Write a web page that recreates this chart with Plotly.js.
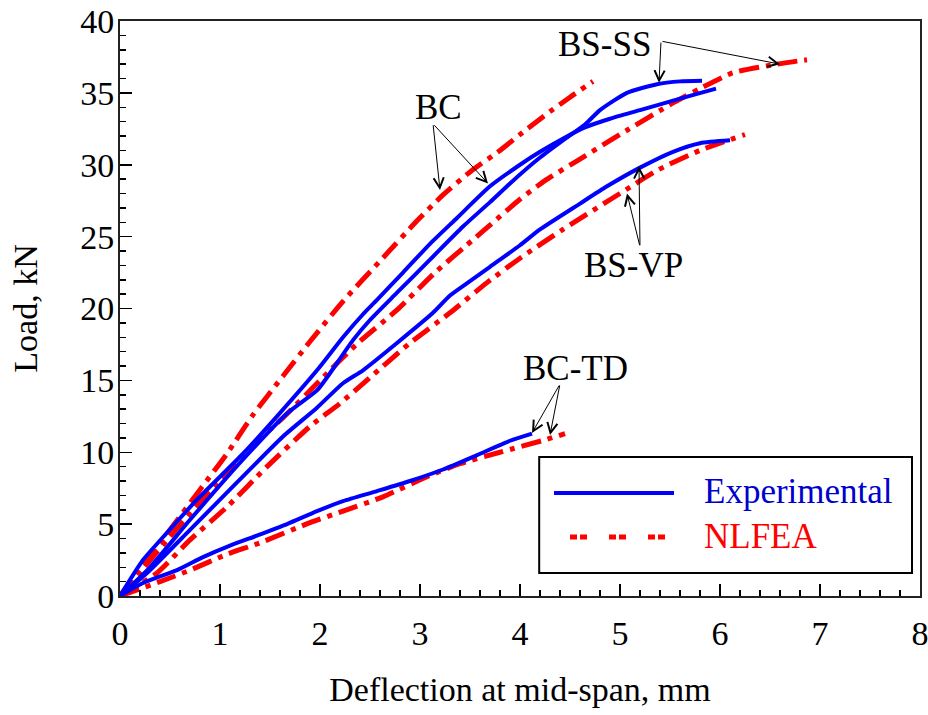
<!DOCTYPE html>
<html>
<head>
<meta charset="utf-8">
<script src="https://cdn.plot.ly/plotly-3.0.1.min.js"></script>
<style>html,body{margin:0;padding:0;background:#fff;}#chart{width:928px;height:715px;}</style>
</head>
<body>
<div id="chart"></div>
<script>
// ---- Data (deflection in mm, load in kN) ----
const BC_exp_x   = [0, 0.23, 0.47, 0.77, 1.23, 1.57, 1.97, 2.23, 2.43, 2.57, 2.83, 3.1, 3.37, 3.7, 4.0, 4.2, 4.45, 4.65, 4.9, 5.2, 5.6, 5.96];
const BC_exp_y   = [0, 2.5, 4.4, 6.7, 9.9, 12.5, 15.7, 18.0, 19.6, 20.6, 22.5, 24.5, 26.3, 28.5, 30.0, 30.9, 31.9, 32.6, 33.2, 33.8, 34.6, 35.3];

const BSSS_exp_x = [0, 0.3, 0.7, 1.23, 1.67, 1.97, 2.07, 2.33, 2.5, 2.77, 3.1, 3.43, 3.7, 3.9, 4.2, 4.45, 4.65, 4.8, 5.07, 5.37, 5.6, 5.82];
const BSSS_exp_y = [0, 2.0, 5.3, 9.5, 12.7, 14.3, 15.2, 17.8, 19.2, 21.1, 23.4, 25.7, 27.4, 28.7, 30.5, 31.8, 32.8, 33.8, 35.0, 35.6, 35.8, 35.85];

const BSVP_exp_x = [0, 0.27, 0.7, 1.17, 1.63, 1.97, 2.23, 2.43, 2.77, 3.13, 3.3, 3.5, 3.7, 4.0, 4.2, 4.6, 4.87, 5.2, 5.53, 5.8, 6.1];
const BSVP_exp_y = [0, 1.6, 4.6, 7.9, 11.1, 13.1, 14.8, 15.7, 17.6, 19.7, 20.9, 21.9, 22.9, 24.4, 25.5, 27.3, 28.5, 29.8, 30.9, 31.5, 31.7];

const BCTD_exp_x = [0, 0.23, 0.57, 0.83, 1.1, 1.37, 1.67, 1.97, 2.23, 2.57, 2.9, 3.23, 3.57, 3.9, 4.12];
const BCTD_exp_y = [0, 0.9, 1.8, 2.7, 3.5, 4.2, 5.0, 5.9, 6.6, 7.3, 8.0, 8.8, 9.8, 10.8, 11.3];

const BC_fea_x   = [0, 0.17, 0.5, 0.8, 1.07, 1.33, 1.63, 1.9, 2.23, 2.6, 2.97, 3.23, 3.5, 3.8, 4.0, 4.3, 4.5, 4.73];
const BC_fea_y   = [0, 1.6, 4.6, 7.4, 9.9, 12.6, 15.3, 17.7, 20.5, 23.3, 26.1, 27.9, 29.5, 31.0, 32.1, 33.7, 34.7, 35.8];

const BSSS_fea_x = [0, 0.23, 0.57, 1.0, 1.3, 1.63, 2.0, 2.38, 2.77, 3.15, 3.55, 3.7, 4.0, 4.25, 4.53, 5.07, 5.53, 5.8, 6.13, 6.57, 6.87];
const BSSS_fea_y = [0, 1.9, 4.7, 8.1, 10.3, 12.4, 15.0, 17.6, 19.9, 22.5, 24.9, 25.8, 27.6, 28.9, 30.1, 32.4, 34.3, 35.3, 36.4, 37.0, 37.3];

const BSVP_fea_x = [0, 0.37, 0.7, 1.07, 1.47, 1.9, 2.2, 2.5, 2.9, 3.3, 3.67, 4.0, 4.43, 5.0, 5.37, 5.8, 6.25];
const BSVP_fea_y = [0, 1.6, 3.9, 6.2, 9.0, 11.8, 13.4, 15.2, 17.6, 19.7, 21.8, 23.5, 25.5, 28.0, 29.6, 31.0, 32.1];

const BCTD_fea_x = [0, 0.4, 0.7, 1.07, 1.4, 1.9, 2.23, 2.63, 3.07, 3.4, 3.8, 4.27, 4.45];
const BCTD_fea_y = [0, 1.0, 1.8, 2.9, 3.7, 5.1, 5.9, 6.9, 8.3, 9.2, 10.0, 10.9, 11.3];

const xTickVals = [0, 1, 2, 3, 4, 5, 6, 7, 8];
const yTickVals = [0, 5, 10, 15, 20, 25, 30, 35, 40];
const legendLabels = ['Experimental', 'NLFEA'];

// ---- Styles ----
const FONT = 'Liberation Serif, Times New Roman, serif';
const expLine = {color: '#0000FF', width: 4, shape: 'spline', smoothing: 0.6};
const feaLine = {color: '#FF0000', width: 5, dash: '20px,7px,5px,7px', shape: 'spline', smoothing: 0.6};

function tr(x, y, line) {
  return {x: x, y: y, type: 'scatter', mode: 'lines', line: line, showlegend: false, hoverinfo: 'skip'};
}

const traces = [
  tr(BC_fea_x, BC_fea_y, feaLine),
  tr(BSSS_fea_x, BSSS_fea_y, feaLine),
  tr(BSVP_fea_x, BSVP_fea_y, feaLine),
  tr(BCTD_fea_x, BCTD_fea_y, feaLine),
  tr(BC_exp_x, BC_exp_y, expLine),
  tr(BSSS_exp_x, BSSS_exp_y, expLine),
  tr(BSVP_exp_x, BSVP_exp_y, expLine),
  tr(BCTD_exp_x, BCTD_exp_y, expLine)
];

function label(text, x, y) {
  return {text: text, x: x, y: y, xref: 'x', yref: 'y', showarrow: false,
          font: {family: FONT, size: 35, color: '#000'}};
}
function arrow(tx, ty, hx, hy) {
  return {text: '', x: hx, y: hy, ax: tx, ay: ty, xref: 'x', yref: 'y', axref: 'x', ayref: 'y',
          showarrow: true, arrowhead: 5, arrowsize: 2, arrowwidth: 1, arrowcolor: '#000', standoff: 0};
}

const annotations = [
  label('BC', 3.18, 33.95),
  arrow(3.13, 32.85, 3.2, 28.24),
  arrow(3.13, 32.85, 3.68, 28.7),
  label('BS-SS', 4.84, 38.4),
  arrow(5.41, 38.6, 5.39, 35.7),
  arrow(5.41, 38.6, 6.6, 37.0),
  label('BS-VP', 5.13, 23.0),
  arrow(5.2, 24.3, 5.19, 29.9),
  arrow(5.2, 24.3, 5.07, 28.0),
  label('BC-TD', 4.55, 15.86),
  arrow(4.4, 14.75, 4.12, 11.34),
  arrow(4.4, 14.75, 4.3, 11.2),
  {text: legendLabels[0], x: 0.7275, y: 0.181, xref: 'paper', yref: 'paper', xanchor: 'left', yanchor: 'middle',
   showarrow: false, font: {family: FONT, size: 35, color: '#0000CC'}},
  {text: legendLabels[1], x: 0.7275, y: 0.103, xref: 'paper', yref: 'paper', xanchor: 'left', yanchor: 'middle',
   showarrow: false, font: {family: FONT, size: 35, color: '#FF0000'}}
];

const shapes = [
  {type: 'rect', xref: 'paper', yref: 'paper', x0: 0.524, x1: 0.99, y0: 0.04, y1: 0.2417,
   line: {color: '#000', width: 2}, fillcolor: '#fff', layer: 'above'},
  {type: 'line', xref: 'paper', yref: 'paper', x0: 0.5425, x1: 0.6925, y0: 0.179, y1: 0.179,
   line: {color: '#0000FF', width: 4}, layer: 'above'},
  {type: 'line', xref: 'paper', yref: 'paper', x0: 0.5625, x1: 0.686, y0: 0.1026, y1: 0.1026,
   line: {color: '#FF0000', width: 5, dash: '7px,3px,7px,22px'}, layer: 'above'}
];

const axisCommon = {
  showline: true, mirror: true, linecolor: '#222', linewidth: 2,
  ticks: 'inside', ticklen: 12, tickwidth: 1.5, tickcolor: '#000',
  showgrid: false, zeroline: false, ticklabeloverflow: 'allow',
  tickfont: {family: FONT, size: 34, color: '#000'}
};

const layout = {
  width: 928, height: 715,
  margin: {l: 120, r: 8, t: 21, b: 119},
  paper_bgcolor: '#fff', plot_bgcolor: '#fff',
  showlegend: false,
  xaxis: Object.assign({}, axisCommon, {
    range: [0, 8], tickvals: xTickVals, ticktext: xTickVals.map(String), ticklabelstandoff: 6,
    minor: {dtick: 0.2, ticks: 'inside', ticklen: 6, tickwidth: 1.5, tickcolor: '#000', showgrid: false},
    title: {text: 'Deflection at mid-span, mm', font: {family: FONT, size: 34, color: '#000'}, standoff: 26}
  }),
  yaxis: Object.assign({}, axisCommon, {
    range: [0, 40], tickvals: yTickVals, ticktext: yTickVals.map(String), ticklabelstandoff: -3,
    minor: {dtick: 1, ticks: 'inside', ticklen: 6, tickwidth: 1.5, tickcolor: '#000', showgrid: false},
    title: {text: 'Load, kN', font: {family: FONT, size: 34, color: '#000'}, standoff: 32}
  }),
  annotations: annotations,
  shapes: shapes
};

Plotly.newPlot('chart', traces, layout, {displayModeBar: false, staticPlot: true});
</script>
</body>
</html>
